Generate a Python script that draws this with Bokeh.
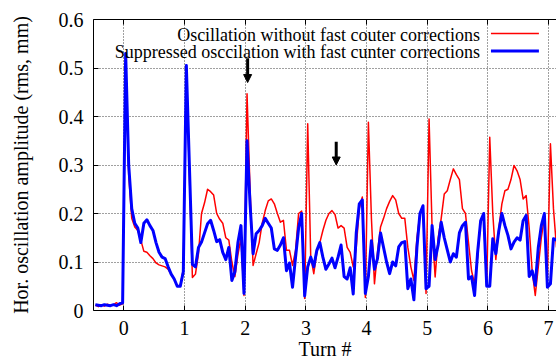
import numpy as np
from bokeh.plotting import figure
from bokeh.models import (Range1d, LinearAxis, FixedTicker, CustomJSTickFormatter,
                          Label, Arrow, NormalHead)
from bokeh.embed import file_html
from bokeh.resources import INLINE

# ---- data -------------------------------------------------------------
turn = np.round(np.arange(-0.47, 7.14, 0.05), 2)

red_pre = [0.011, 0.008, 0.012, 0.009, 0.013, 0.010, 0.012, 0.016, 0.011, 0.014]
blue_pre = [0.012, 0.011, 0.010, 0.012, 0.011, 0.010, 0.012, 0.010, 0.014, 0.016]

red_t0 = [0.52, 0.28, 0.19, 0.172, 0.165, 0.145, 0.122, 0.12, 0.113, 0.107,
          0.098, 0.094, 0.092, 0.09, 0.085, 0.075, 0.065, 0.05, 0.052, 0.085]
blue_t0 = [0.53, 0.30, 0.21, 0.18, 0.17, 0.14, 0.18, 0.187, 0.175, 0.165,
           0.14, 0.12, 0.11, 0.107, 0.09, 0.075, 0.065, 0.05, 0.05, 0.08]

red_t1 = [0.50, 0.28, 0.068, 0.075, 0.117, 0.2, 0.222, 0.25, 0.245, 0.238,
          0.2, 0.188, 0.18, 0.15, 0.145, 0.1, 0.07, 0.115, 0.15, 0.031]
blue_t1 = [0.505, 0.30, 0.095, 0.09, 0.13, 0.141, 0.16, 0.179, 0.186, 0.165,
           0.142, 0.146, 0.12, 0.105, 0.13, 0.062, 0.08, 0.14, 0.175, 0.035]

red_t2 = [0.447, 0.25, 0.093, 0.117, 0.14, 0.18, 0.206, 0.226, 0.23, 0.22,
          0.2, 0.182, 0.186, 0.124, 0.124, 0.093, 0.124, 0.2, 0.205, 0.025]
blue_t2 = [0.35, 0.22, 0.117, 0.158, 0.165, 0.175, 0.19, 0.18, 0.17, 0.127,
           0.124, 0.135, 0.15, 0.082, 0.098, 0.048, 0.11, 0.17, 0.2, 0.03]

red_t3 = [0.385, 0.11, 0.076, 0.12, 0.14, 0.165, 0.186, 0.2, 0.206, 0.198,
          0.17, 0.175, 0.17, 0.13, 0.12, 0.09, 0.13, 0.21, 0.234, 0.027]
blue_t3 = [0.09, 0.11, 0.09, 0.124, 0.14, 0.11, 0.085, 0.096, 0.108, 0.088,
           0.11, 0.135, 0.07, 0.065, 0.088, 0.034, 0.16, 0.22, 0.228, 0.035]

red_t4 = [0.388, 0.19, 0.055, 0.12, 0.172, 0.19, 0.21, 0.225, 0.237, 0.228,
          0.2, 0.19, 0.19, 0.13, 0.09, 0.062, 0.15, 0.2, 0.213, 0.035]
blue_t4 = [0.07, 0.144, 0.085, 0.107, 0.16, 0.13, 0.1, 0.076, 0.1, 0.092,
           0.131, 0.14, 0.142, 0.045, 0.065, 0.022, 0.13, 0.2, 0.216, 0.045]

red_t5 = [0.395, 0.17, 0.069, 0.15, 0.19, 0.24, 0.247, 0.27, 0.292, 0.28,
          0.27, 0.21, 0.2, 0.14, 0.082, 0.055, 0.11, 0.185, 0.19, 0.05]
blue_t5 = [0.05, 0.175, 0.105, 0.135, 0.182, 0.15, 0.125, 0.1, 0.117, 0.11,
           0.16, 0.175, 0.182, 0.065, 0.07, 0.031, 0.12, 0.185, 0.2, 0.05]

red_t6 = [0.357, 0.2, 0.105, 0.17, 0.22, 0.247, 0.25, 0.27, 0.299, 0.288,
          0.27, 0.23, 0.237, 0.17, 0.08, 0.031, 0.09, 0.15, 0.19, 0.07]
blue_t6 = [0.05, 0.148, 0.117, 0.165, 0.2, 0.175, 0.155, 0.127, 0.141, 0.15,
           0.145, 0.185, 0.196, 0.07, 0.082, 0.052, 0.13, 0.175, 0.2, 0.048]

red_t7 = [0.344, 0.21, 0.13]
blue_t7 = [0.055, 0.148, 0.145]

without_corr = (red_pre + red_t0 + red_t1 + red_t2 + red_t3 + red_t4 +
                red_t5 + red_t6 + red_t7)
with_corr = (blue_pre + blue_t0 + blue_t1 + blue_t2 + blue_t3 + blue_t4 +
             blue_t5 + blue_t6 + blue_t7)

x_ticks = [0, 1, 2, 3, 4, 5, 6, 7]
y_ticks = [0, 0.1, 0.2, 0.3, 0.4, 0.5, 0.6]

x_title = "Turn #"
y_title = "Hor. oscillation amplitude (rms, mm)"
label_red = "Oscillation without fast couter corrections"
label_blue = "Suppressed osccilation with fast cunter corrections"

# arrows marking turns (x, top, tip)
arrow_x = [2.04, 3.5]
arrow_top = [0.52, 0.348]
arrow_tip = [0.47, 0.300]

# ---- figure -------------------------------------------------------------
FONT = "'Liberation Serif'"

p = figure(width=556, height=363, output_backend="svg", toolbar_location=None,
           x_range=Range1d(-0.5, 7.13), y_range=Range1d(0, 0.6),
           min_border_left=93, min_border_right=0, min_border_top=19,
           min_border_bottom=53, background_fill_color="white",
           border_fill_color="white")
p.outline_line_color = None

p.line(turn, without_corr, line_color="#ff0000", line_width=1.5, line_join="round")
p.line(turn, with_corr, line_color="#0000ff", line_width=3, line_join="round")

# axes
xa = p.xaxis[0]
xa.ticker = FixedTicker(ticks=x_ticks)
ya = p.yaxis[0]
ya.ticker = FixedTicker(ticks=y_ticks)
ya.formatter = CustomJSTickFormatter(code="return tick == 0 ? '0' : tick.toFixed(1);")

top = LinearAxis(ticker=FixedTicker(ticks=x_ticks),
                 formatter=CustomJSTickFormatter(code="return '';"))
top.major_label_standoff = 0
top.major_label_text_font_size = "1px"
p.add_layout(top, "above")

for ax in [xa, ya, top]:
    ax.axis_line_color = "black"
    ax.axis_line_width = 1
    ax.major_tick_line_color = "black"
    ax.major_tick_in = 5
    ax.major_tick_out = 0
    ax.minor_tick_in = 0
    ax.minor_tick_out = 0
    ax.major_label_text_font = FONT
    ax.major_label_text_color = "black"
    ax.axis_label_text_font = FONT
    ax.axis_label_text_font_style = "normal"
    ax.axis_label_text_color = "black"

for ax in [xa, ya]:
    ax.major_label_text_font_size = "20px"
    ax.axis_label_text_font_size = "20px"

xa.axis_label = x_title
xa.major_label_standoff = 10
xa.axis_label_standoff = 0
ya.axis_label = y_title
ya.major_label_standoff = 10
ya.axis_label_standoff = 24

# grid
p.xgrid.ticker = FixedTicker(ticks=x_ticks)
p.ygrid.ticker = FixedTicker(ticks=y_ticks[1:-1])
for g in [p.xgrid, p.ygrid]:
    g.grid_line_color = "black"
    g.grid_line_alpha = 0.75
    g.grid_line_dash = "1 2"
    g.grid_line_width = 1

# arrows
for ax_, t0, t1 in zip(arrow_x, arrow_top, arrow_tip):
    p.add_layout(Arrow(end=NormalHead(size=8, fill_color="black", line_color="black",
                                      line_width=1),
                       x_start=ax_, y_start=t0, x_end=ax_, y_end=t1,
                       line_color="black", line_width=3))

# legend (gnuplot style: text right-aligned, sample to the right)
leg_text_x = 5.87
leg_line_x0, leg_line_x1 = 6.05, 6.84
leg_y = [0.569, 0.533]
for txt, col, lw, yy in [(label_red, "#ff0000", 1.5, leg_y[0]),
                         (label_blue, "#0000ff", 3, leg_y[1])]:
    p.add_layout(Label(x=leg_text_x, y=yy, text=txt, text_align="right",
                       text_baseline="middle", text_font=FONT,
                       text_font_size="18px", text_color="black"))
    p.add_layout(Arrow(end=None, x_start=leg_line_x0, y_start=yy + 0.002,
                       x_end=leg_line_x1, y_end=yy + 0.002,
                       line_color=col, line_width=lw))

open("out.html", "w").write(file_html(p, INLINE))
